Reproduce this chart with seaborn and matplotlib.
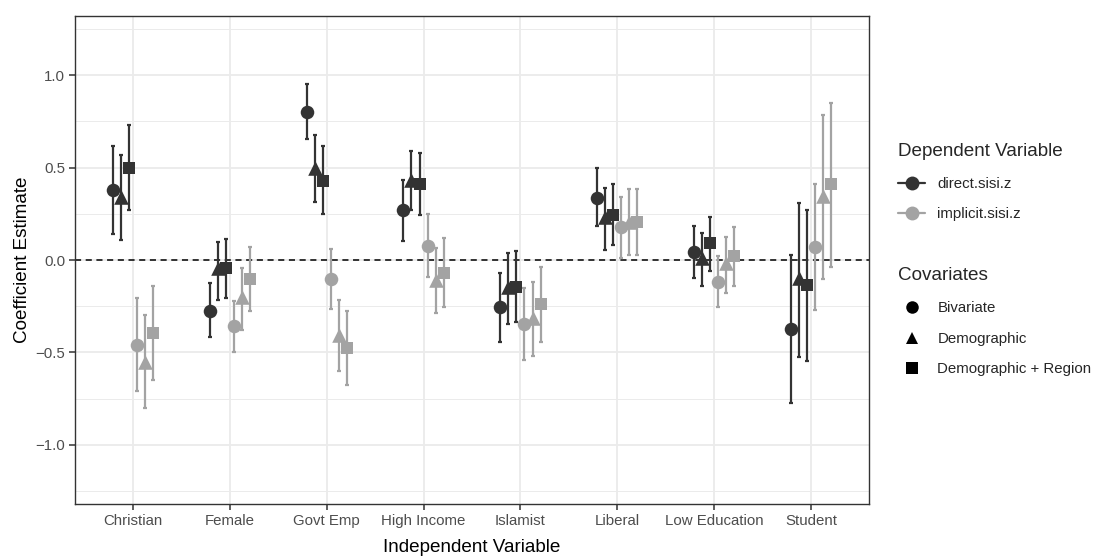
import numpy as np
import pandas as pd
import seaborn as sns
import matplotlib
matplotlib.use("Agg")
import matplotlib.pyplot as plt
from matplotlib.lines import Line2D

categories = ["Christian", "Female", "Govt Emp", "High Income", "Islamist",
              "Liberal", "Low Education", "Student"]
dep_vars = ["direct.sisi.z", "implicit.sisi.z"]
covariates = ["Bivariate", "Demographic", "Demographic + Region"]

# direct.sisi.z
direct_biv = [0.378, -0.275, 0.80, 0.27, -0.256, 0.338, 0.045, -0.374]
direct_biv_lo = [0.14, -0.418, 0.655, 0.104, -0.441, 0.184, -0.095, -0.774]
direct_biv_hi = [0.616, -0.126, 0.95, 0.432, -0.068, 0.497, 0.185, 0.027]
direct_dem = [0.34, -0.045, 0.50, 0.432, -0.144, 0.23, 0.009, -0.10]
direct_dem_lo = [0.108, -0.216, 0.315, 0.27, -0.347, 0.054, -0.139, -0.526]
direct_dem_hi = [0.567, 0.095, 0.675, 0.592, 0.04, 0.387, 0.144, 0.308]
direct_reg = [0.50, -0.045, 0.428, 0.41, -0.144, 0.243, 0.09, -0.135]
direct_reg_lo = [0.27, -0.203, 0.248, 0.243, -0.333, 0.079, -0.059, -0.544]
direct_reg_hi = [0.733, 0.112, 0.616, 0.581, 0.047, 0.41, 0.234, 0.27]

# implicit.sisi.z
implicit_biv = [-0.459, -0.356, -0.104, 0.076, -0.346, 0.176, -0.117, 0.068]
implicit_biv_lo = [-0.711, -0.495, -0.266, -0.094, -0.54, 0.009, -0.256, -0.27]
implicit_biv_hi = [-0.203, -0.22, 0.061, 0.247, -0.153, 0.342, 0.023, 0.409]
implicit_dem = [-0.55, -0.20, -0.405, -0.108, -0.315, 0.207, -0.018, 0.347]
implicit_dem_lo = [-0.80, -0.378, -0.603, -0.288, -0.522, 0.027, -0.18, -0.104]
implicit_dem_hi = [-0.30, -0.045, -0.218, 0.063, -0.117, 0.383, 0.122, 0.787]
implicit_reg = [-0.396, -0.104, -0.477, -0.068, -0.24, 0.207, 0.023, 0.409]
implicit_reg_lo = [-0.648, -0.275, -0.675, -0.256, -0.441, 0.027, -0.14, -0.036]
implicit_reg_hi = [-0.14, 0.072, -0.277, 0.117, -0.036, 0.383, 0.178, 0.85]

series = [
    ("direct.sisi.z", "Bivariate", direct_biv, direct_biv_lo, direct_biv_hi),
    ("direct.sisi.z", "Demographic", direct_dem, direct_dem_lo, direct_dem_hi),
    ("direct.sisi.z", "Demographic + Region", direct_reg, direct_reg_lo, direct_reg_hi),
    ("implicit.sisi.z", "Bivariate", implicit_biv, implicit_biv_lo, implicit_biv_hi),
    ("implicit.sisi.z", "Demographic", implicit_dem, implicit_dem_lo, implicit_dem_hi),
    ("implicit.sisi.z", "Demographic + Region", implicit_reg, implicit_reg_lo, implicit_reg_hi),
]

rows = []
n_groups = len(series)
dodge = 0.5
for gi, (dv, cov, est, lo, hi) in enumerate(series):
    off = (gi - (n_groups - 1) / 2) * dodge / n_groups
    for ci, cat in enumerate(categories):
        rows.append(dict(category=cat, dv=dv, cov=cov, est=est[ci], lo=lo[ci],
                         hi=hi[ci], x=ci + off))
df = pd.DataFrame(rows)

sns.set_theme(style="whitegrid")
plt.rcParams["font.family"] = ["Liberation Sans", "DejaVu Sans"]

palette = {"direct.sisi.z": "#333333", "implicit.sisi.z": "#a3a3a3"}
markers = {"Bivariate": "o", "Demographic": "^", "Demographic + Region": "s"}
sizes_map = {"Bivariate": 95, "Demographic": 110, "Demographic + Region": 85}

fig = plt.figure(figsize=(10.95, 5.57), dpi=100)
ax = fig.add_axes([75 / 1095, 1 - 504 / 557, (869 - 75) / 1095, (504 - 16) / 557])
ax.set_facecolor("white")

# reference line
ax.axhline(0, color="black", linestyle=(0, (4, 3)), linewidth=1.1, zorder=2)

# error bars + points, drawn group by group
for (dv, cov), sub in df.groupby(["dv", "cov"], sort=False):
    col = palette[dv]
    ax.errorbar(sub["x"], sub["est"],
                yerr=[sub["est"] - sub["lo"], sub["hi"] - sub["est"]],
                fmt="none", ecolor=col, elinewidth=1.6, capsize=1.5,
                capthick=1.6, zorder=3)
    sns.scatterplot(data=sub, x="x", y="est", color=col,
                    marker=markers[cov], s=sizes_map[cov], linewidth=0,
                    ax=ax, zorder=4, legend=False)

ax.set_xlim(-0.6, len(categories) - 0.4)
ax.set_ylim(-1.32, 1.32)
ax.set_xticks(range(len(categories)))
ax.set_xticklabels(categories)
ax.set_yticks([-1.0, -0.5, 0.0, 0.5, 1.0])
ax.set_yticklabels(["\u22121.0", "\u22120.5", "0.0", "0.5", "1.0"])
ax.set_yticks([-1.25, -0.75, -0.25, 0.25, 0.75, 1.25], minor=True)

ax.grid(True, which="major", color="#ebebeb", linewidth=1.3)
ax.grid(True, which="minor", axis="y", color="#ebebeb", linewidth=0.7)
ax.set_axisbelow(True)

for sp in ax.spines.values():
    sp.set_visible(True)
    sp.set_color("#333333")
    sp.set_linewidth(1.0)

ax.tick_params(axis="both", which="major", length=4, width=1.1, color="#333333",
               labelsize=10.8, labelcolor="#4d4d4d", pad=3, bottom=True, left=True)
ax.tick_params(axis="y", which="minor", length=0)

ax.set_xlabel("Independent Variable", fontsize=13.6, color="black", labelpad=8)
ax.set_ylabel("Coefficient Estimate", fontsize=13.6, color="black", labelpad=3)

# legends
h1 = [Line2D([0], [0], color=palette[d], marker="o", markersize=10,
             linewidth=1.6, markeredgewidth=0) for d in dep_vars]
leg1 = fig.legend(h1, dep_vars, title="Dependent Variable", loc="upper left",
                  bbox_to_anchor=(0.808, 0.768), frameon=False, fontsize=10.8,
                  title_fontsize=13.6, handlelength=1.8, handletextpad=0.8,
                  labelspacing=1.05, alignment="left")
leg1._legend_box.sep = 12.6
h2 = [Line2D([0], [0], color="black", marker=markers[c], markersize=9,
             linewidth=0, markeredgewidth=0) for c in covariates]
leg2 = fig.legend(h2, covariates, title="Covariates", loc="upper left",
                  bbox_to_anchor=(0.808, 0.545), frameon=False, fontsize=10.8,
                  title_fontsize=13.6, handlelength=1.8, handletextpad=0.8,
                  labelspacing=1.1, alignment="left")
leg2._legend_box.sep = 12.6

fig.savefig("out.png", dpi=100, facecolor="white")
